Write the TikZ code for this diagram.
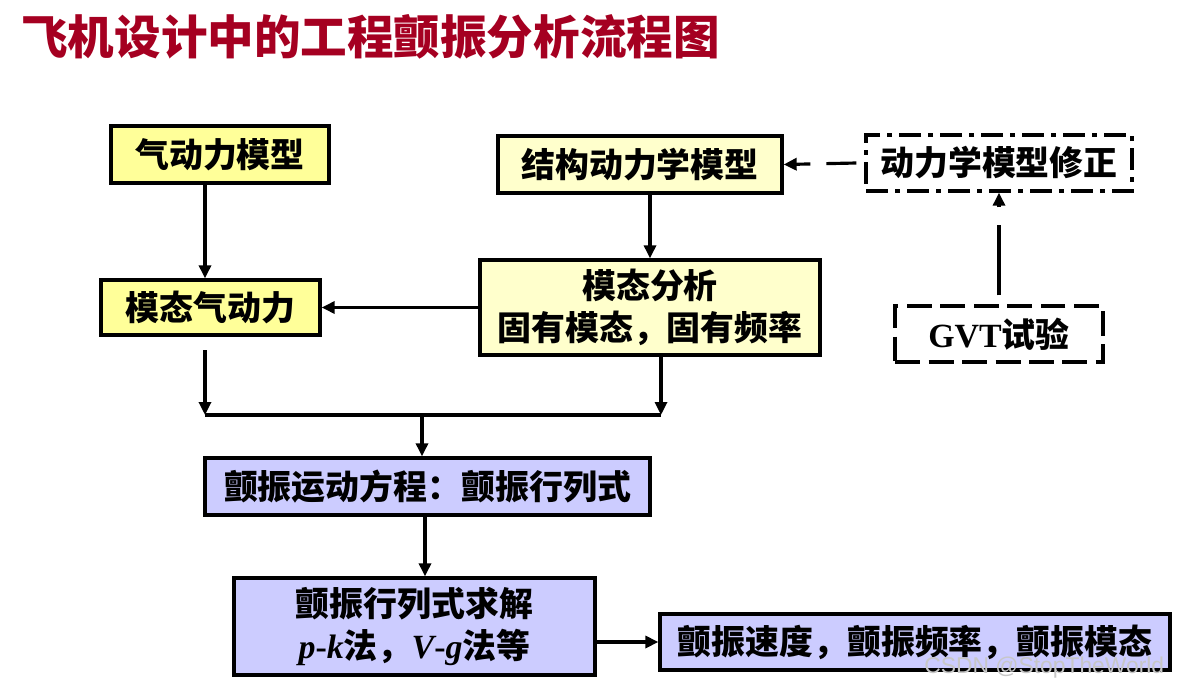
\documentclass[tikz,border=0pt]{standalone}
\usepackage{fontspec}
\setmainfont{Liberation Serif}
\newfontfamily\cjk{Noto Sans CJK SC}
\newfontfamily\wmfont{Liberation Sans}
\usetikzlibrary{arrows.meta}
\definecolor{titlered}{RGB}{165,0,33}
\definecolor{ybright}{RGB}{255,255,153}
\definecolor{ypale}{RGB}{255,255,204}
\definecolor{lav}{RGB}{204,204,255}
\begin{document}
\begin{tikzpicture}[x=0.02cm,y=-0.02cm,
  box/.style={draw=black, line width=1.9pt, align=center, inner sep=0pt,
    font=\cjk\bfseries\fontsize{19.3}{23.5}\selectfont},
  ybox/.style={box, fill=ybright},
  pbox/.style={box, fill=ypale},
  lbox/.style={box, fill=lav},
  dbox/.style={box, dash pattern=on 0.44cm off 0.14cm on 0.1cm off 0.14cm},
  gbox/.style={box, dash pattern=on 0.5cm off 0.17cm},
  arr/.style={-{Triangle[length=0.26cm,width=0.24cm]}, line width=1.8pt},
  darr/.style={arr, dash pattern=on 0.6cm off 0.32cm},
  varr/.style={arr, dash pattern=on 1.4cm off 0.36cm},
  title/.style={font=\cjk\bfseries\fontsize{26.5}{30}\selectfont, text=titlered, inner sep=0pt},
  wm/.style={font=\wmfont\fontsize{13}{15}\selectfont, text=black!22, inner sep=0pt}
]
\useasboundingbox (0,0) rectangle (1181,690);

\node[title, anchor=west] (t) at (21,37) {飞机设计中的工程颤振分析流程图};

\node[ybox, minimum width=4.36cm, minimum height=1.14cm] (a) at (220,154.5) {气动力模型};
\node[pbox, minimum width=5.68cm, minimum height=1.14cm] (s) at (640,164.5) {结构动力学模型};
\node[dbox, minimum width=5.32cm, minimum height=1.12cm] (m) at (999,163) {动力学模型修正};
\node[ybox, minimum width=4.38cm, minimum height=1.10cm] (ma) at (210.5,307.5) {模态气动力};
\node[pbox, minimum width=6.80cm, minimum height=1.90cm] (mo) at (650,307.5) {模态分析\\固有模态，固有频率};
\node[gbox, minimum width=4.16cm, minimum height=1.12cm] (g) at (999,334) {{\rmfamily\bfseries GVT}试验};
\node[lbox, minimum width=8.90cm, minimum height=1.14cm] (f) at (427.5,486.5) {颤振运动方程：颤振行列式};
\node[lbox, minimum width=7.22cm, minimum height=1.94cm] (sol) at (414.5,626.5) {颤振行列式求解\\{\rmfamily\bfseries\itshape p}{\rmfamily\bfseries -}{\rmfamily\bfseries\itshape k}法，{\rmfamily\bfseries\itshape V}{\rmfamily\bfseries -}{\rmfamily\bfseries\itshape g}法等};
\node[lbox, minimum width=10.20cm, minimum height=1.12cm] (r) at (915,642) {颤振速度，颤振频率，颤振模态};

\coordinate (c1) at (205,0);
\coordinate (j1top) at (205,350);
\coordinate (j1) at (205,415);
\coordinate (j2) at (661,415);
\coordinate (j3) at (422,415);
\coordinate (k) at (425,0);

\draw[arr] (a.south -| c1) -- (ma.north -| c1);
\draw[arr] (s.south -| mo.north) -- (mo.north);
\draw[arr] (mo.west) -- (ma.east);
\draw[darr] ([xshift=-0.16cm]m.west) -- (s.east);
\draw[varr] ([yshift=0.18cm]g.north) -- (m.south);
\draw[arr] (j1top) -- (j1);
\draw[arr] (mo.south -| j2) -- (j2);
\draw[line width=1.8pt] (j1) -- (j2);
\draw[arr] (j3) -- (f.north -| j3);
\draw[arr] (f.south -| k) -- (sol.north -| k);
\draw[arr] (sol.east |- r.west) -- (r.west);

\node[wm, anchor=west] (w) at (924,668) {CSDN @StopTheWorld};
\end{tikzpicture}
\end{document}
